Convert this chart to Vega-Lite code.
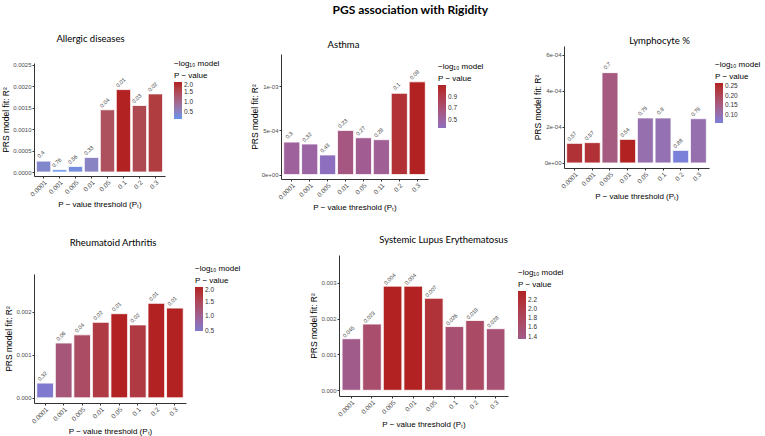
{
  "$schema": "https://vega.github.io/schema/vega-lite/v6.json",
  "background": "white",
  "padding": {"left": 1, "top": 3, "right": 0, "bottom": 0},
  "title": {"text": "PGS association with Rigidity", "font": "Lato", "fontSize": 12, "fontWeight": "bold", "anchor": "middle", "dx": 29, "offset": 16.5, "color": "black"},
  "data": {"values": [
    {"disease": "Allergic diseases", "threshold": "0.0001", "r2": 0.000254, "p": "0.4", "nlp": 0.398},
    {"disease": "Allergic diseases", "threshold": "0.001", "r2": 0.000054, "p": "0.76", "nlp": 0.119},
    {"disease": "Allergic diseases", "threshold": "0.005", "r2": 0.00013, "p": "0.56", "nlp": 0.252},
    {"disease": "Allergic diseases", "threshold": "0.01", "r2": 0.00034, "p": "0.33", "nlp": 0.481},
    {"disease": "Allergic diseases", "threshold": "0.05", "r2": 0.00145, "p": "0.04", "nlp": 1.398},
    {"disease": "Allergic diseases", "threshold": "0.1", "r2": 0.00192, "p": "0.01", "nlp": 2.0},
    {"disease": "Allergic diseases", "threshold": "0.2", "r2": 0.00155, "p": "0.03", "nlp": 1.523},
    {"disease": "Allergic diseases", "threshold": "0.3", "r2": 0.00182, "p": "0.02", "nlp": 1.699},
    {"disease": "Asthma", "threshold": "0.0001", "r2": 0.000368, "p": "0.3", "nlp": 0.523},
    {"disease": "Asthma", "threshold": "0.001", "r2": 0.000346, "p": "0.32", "nlp": 0.495},
    {"disease": "Asthma", "threshold": "0.005", "r2": 0.000222, "p": "0.43", "nlp": 0.367},
    {"disease": "Asthma", "threshold": "0.01", "r2": 0.0005, "p": "0.23", "nlp": 0.638},
    {"disease": "Asthma", "threshold": "0.05", "r2": 0.000417, "p": "0.27", "nlp": 0.569},
    {"disease": "Asthma", "threshold": "0.11", "r2": 0.000395, "p": "0.28", "nlp": 0.553},
    {"disease": "Asthma", "threshold": "0.2", "r2": 0.00092, "p": "0.1", "nlp": 1.0},
    {"disease": "Asthma", "threshold": "0.3", "r2": 0.00105, "p": "0.08", "nlp": 1.097},
    {"disease": "Lymphocyte %", "threshold": "0.0001", "r2": 0.000109, "p": "0.57", "nlp": 0.244},
    {"disease": "Lymphocyte %", "threshold": "0.001", "r2": 0.000113, "p": "0.57", "nlp": 0.244},
    {"disease": "Lymphocyte %", "threshold": "0.005", "r2": 0.000502, "p": "0.7", "nlp": 0.155},
    {"disease": "Lymphocyte %", "threshold": "0.01", "r2": 0.000131, "p": "0.54", "nlp": 0.268},
    {"disease": "Lymphocyte %", "threshold": "0.05", "r2": 0.00025, "p": "0.79", "nlp": 0.102},
    {"disease": "Lymphocyte %", "threshold": "0.1", "r2": 0.00025, "p": "0.8", "nlp": 0.097},
    {"disease": "Lymphocyte %", "threshold": "0.2", "r2": 0.00007, "p": "0.88", "nlp": 0.056},
    {"disease": "Lymphocyte %", "threshold": "0.3", "r2": 0.000246, "p": "0.79", "nlp": 0.102},
    {"disease": "Rheumatoid Arthritis", "threshold": "0.0001", "r2": 0.000342, "p": "0.32", "nlp": 0.495},
    {"disease": "Rheumatoid Arthritis", "threshold": "0.001", "r2": 0.00127, "p": "0.06", "nlp": 1.222},
    {"disease": "Rheumatoid Arthritis", "threshold": "0.005", "r2": 0.00146, "p": "0.04", "nlp": 1.398},
    {"disease": "Rheumatoid Arthritis", "threshold": "0.01", "r2": 0.00175, "p": "0.02", "nlp": 1.699},
    {"disease": "Rheumatoid Arthritis", "threshold": "0.05", "r2": 0.00195, "p": "0.01", "nlp": 2.0},
    {"disease": "Rheumatoid Arthritis", "threshold": "0.1", "r2": 0.00169, "p": "0.02", "nlp": 1.699},
    {"disease": "Rheumatoid Arthritis", "threshold": "0.2", "r2": 0.00219, "p": "0.01", "nlp": 2.0},
    {"disease": "Rheumatoid Arthritis", "threshold": "0.3", "r2": 0.00208, "p": "0.01", "nlp": 2.0},
    {"disease": "Systemic Lupus Erythematosus", "threshold": "0.0001", "r2": 0.00144, "p": "0.045", "nlp": 1.347},
    {"disease": "Systemic Lupus Erythematosus", "threshold": "0.001", "r2": 0.00185, "p": "0.023", "nlp": 1.638},
    {"disease": "Systemic Lupus Erythematosus", "threshold": "0.005", "r2": 0.00291, "p": "0.004", "nlp": 2.398},
    {"disease": "Systemic Lupus Erythematosus", "threshold": "0.01", "r2": 0.00291, "p": "0.004", "nlp": 2.398},
    {"disease": "Systemic Lupus Erythematosus", "threshold": "0.05", "r2": 0.00257, "p": "0.007", "nlp": 2.155},
    {"disease": "Systemic Lupus Erythematosus", "threshold": "0.1", "r2": 0.00178, "p": "0.026", "nlp": 1.585},
    {"disease": "Systemic Lupus Erythematosus", "threshold": "0.2", "r2": 0.00195, "p": "0.019", "nlp": 1.721},
    {"disease": "Systemic Lupus Erythematosus", "threshold": "0.3", "r2": 0.00172, "p": "0.028", "nlp": 1.553}
  ]},
  "spacing": 22,
  "resolve": {"scale": {"color": "independent"}, "legend": {"color": "independent"}},
  "vconcat": [
    {
      "spacing": 30,
      "resolve": {"scale": {"color": "independent"}, "legend": {"color": "independent"}},
      "hconcat": [
        {"spacing": 0, "vconcat": [
        {"height": 1, "width": 10, "data": {"values": [{"k": 1}]}, "mark": {"type": "rect", "opacity": 0}, "encoding": {}},
        {
          "transform": [{"filter": "datum.disease === 'Allergic diseases'"}],
          "width": 131, "height": 113,
          "title": {"text": "Allergic diseases", "font": "Lato", "fontSize": 9.5, "fontWeight": "normal", "offset": 18, "frame": "group", "anchor": "middle", "dx": -9},
          "encoding": {
            "x": {"field": "threshold", "type": "nominal", "sort": null, "scale": {"paddingInner": 0.1, "paddingOuter": 0.15}, "axis": {"title": "P − value threshold (Pₜ)", "labelAngle": 315}},
            "y": {"field": "r2", "type": "quantitative", "scale": {"domain": [-0.000093, 0.00254], "nice": false, "zero": false}, "axis": {"values": [0, 0.0005, 0.001, 0.0015, 0.002, 0.0025], "format": ".4f", "title": "PRS model fit:  R²"}}
          },
          "layer": [
            {"mark": {"type": "bar", "stroke": "white", "strokeWidth": 0.8},
             "encoding": {"y2": {"datum": 0}, "color": {"field": "nlp", "type": "quantitative", "scale": {"domain": [0.119, 2.0], "range": ["#6495ED", "#B22222"], "interpolate": "lab"}, "legend": {"values": [0.5, 1.0, 1.5, 2.0], "format": ".1f", "title": ["−log₁₀ model", "   P − value"], "gradientLength": 37, "orient": "none", "legendX": 140, "legendY": 27}}}},
            {"mark": {"type": "text", "angle": 315, "fontSize": 5.5, "dx": 3, "dy": -7, "baseline": "middle", "align": "center", "font": "Liberation Sans", "color": "#333"},
             "encoding": {"text": {"field": "p"}}}
          ]
        }]},
        {
          "spacing": 49,
          "resolve": {"scale": {"color": "independent"}, "legend": {"color": "independent"}},
          "hconcat": [
            {"spacing": 0, "vconcat": [
            {"height": 5.4, "width": 10, "data": {"values": [{"k": 1}]}, "mark": {"type": "rect", "opacity": 0}, "encoding": {}},
            {
              "transform": [{"filter": "datum.disease === 'Asthma'"}],
              "width": 147, "height": 125,
              "title": {"text": "Asthma", "font": "Lato", "fontSize": 9.5, "fontWeight": "normal", "offset": 4.8, "frame": "group", "anchor": "middle", "dx": -11},
              "encoding": {
                "x": {"field": "threshold", "type": "nominal", "sort": null, "scale": {"paddingInner": 0.1, "paddingOuter": 0.15}, "axis": {"title": "P − value threshold (Pₜ)", "labelAngle": 315}},
                "y": {"field": "r2", "type": "quantitative", "scale": {"domain": [-0.00005, 0.001365], "nice": false, "zero": false}, "axis": {"values": [0, 0.0005, 0.001], "labelExpr": "datum.value == 0 ? '0e+00' : datum.value < 0.0007 ? '5e-04' : '1e-03'", "title": "PRS model fit:  R²"}}
              },
              "layer": [
                {"mark": {"type": "bar", "stroke": "white", "strokeWidth": 0.8},
                 "encoding": {"y2": {"datum": 0}, "color": {"field": "nlp", "type": "quantitative", "scale": {"domain": [0.367, 1.097], "range": ["#8E6FBF", "#B22222"], "interpolate": "lab"}, "legend": {"values": [0.5, 0.7, 0.9], "format": ".1f", "title": ["−log₁₀ model", "   P − value"], "gradientLength": 43, "orient": "none", "legendX": 157, "legendY": 30}}}},
                {"mark": {"type": "text", "angle": 315, "fontSize": 5.5, "dx": 3, "dy": -7, "baseline": "middle", "align": "center", "font": "Liberation Sans", "color": "#333"},
                 "encoding": {"text": {"field": "p"}}}
              ]
            }]},
            {"spacing": 0, "vconcat": [
            {"height": 2.7, "width": 10, "data": {"values": [{"k": 1}]}, "mark": {"type": "rect", "opacity": 0}, "encoding": {}},
            {
              "transform": [{"filter": "datum.disease === 'Lymphocyte %'"}],
              "width": 145, "height": 122,
              "title": {"text": "Lymphocyte %", "font": "Lato", "fontSize": 9.5, "fontWeight": "normal", "offset": 0.5, "frame": "group", "anchor": "middle", "dx": 23},
              "encoding": {
                "x": {"field": "threshold", "type": "nominal", "sort": null, "scale": {"paddingInner": 0.1, "paddingOuter": 0.15}, "axis": {"title": "P − value threshold (Pₜ)", "labelAngle": 315}},
                "y": {"field": "r2", "type": "quantitative", "scale": {"domain": [-0.000028, 0.00065], "nice": false, "zero": false}, "axis": {"values": [0, 0.0002, 0.0004, 0.0006], "labelExpr": "datum.value == 0 ? '0e+00' : datum.value < 0.0003 ? '2e-04' : datum.value < 0.0005 ? '4e-04' : '6e-04'", "title": "PRS model fit:  R²"}}
              },
              "layer": [
                {"mark": {"type": "bar", "stroke": "white", "strokeWidth": 0.8},
                 "encoding": {"y2": {"datum": 0}, "color": {"field": "nlp", "type": "quantitative", "scale": {"domain": [0.056, 0.268], "range": ["#7B80D8", "#B22222"], "interpolate": "lab"}, "legend": {"values": [0.1, 0.15, 0.2, 0.25], "format": ".2f", "title": ["−log₁₀ model", "   P − value"], "gradientLength": 40, "orient": "none", "legendX": 151, "legendY": 28}}}},
                {"mark": {"type": "text", "angle": 315, "fontSize": 5.5, "dx": 3, "dy": -7, "baseline": "middle", "align": "center", "font": "Liberation Sans", "color": "#333"},
                 "encoding": {"text": {"field": "p"}}}
              ]
            }]}
          ]
        }
      ]
    },
    {
      "spacing": 68,
      "resolve": {"scale": {"color": "independent"}, "legend": {"color": "independent"}},
      "hconcat": [
        {"spacing": 0, "vconcat": [
        {"height": 4, "width": 10, "data": {"values": [{"k": 1}]}, "mark": {"type": "rect", "opacity": 0}, "encoding": {}},
        {
          "transform": [{"filter": "datum.disease === 'Rheumatoid Arthritis'"}],
          "width": 152, "height": 129,
          "title": {"text": "Rheumatoid Arthritis", "font": "Lato", "fontSize": 9.5, "fontWeight": "normal", "offset": 26.5, "frame": "group", "anchor": "middle", "dx": 3},
          "encoding": {
            "x": {"field": "threshold", "type": "nominal", "sort": null, "scale": {"paddingInner": 0.1, "paddingOuter": 0.15}, "axis": {"title": "P − value threshold (Pₜ)", "labelAngle": 315}},
            "y": {"field": "r2", "type": "quantitative", "scale": {"domain": [-0.00012, 0.00287], "nice": false, "zero": false}, "axis": {"values": [0, 0.001, 0.002], "format": ".3f", "title": "PRS model fit:  R²"}}
          },
          "layer": [
            {"mark": {"type": "bar", "stroke": "white", "strokeWidth": 0.8},
             "encoding": {"y2": {"datum": 0}, "color": {"field": "nlp", "type": "quantitative", "scale": {"domain": [0.495, 2.0], "range": ["#7F79CF", "#B22222"], "interpolate": "lab"}, "legend": {"values": [0.5, 1.0, 1.5, 2.0], "format": ".1f", "title": ["−log₁₀ model", "   P − value"], "gradientLength": 44, "orient": "none", "legendX": 161, "legendY": 31}}}},
            {"mark": {"type": "text", "angle": 315, "fontSize": 5.5, "dx": 3, "dy": -7, "baseline": "middle", "align": "center", "font": "Liberation Sans", "color": "#333"},
             "encoding": {"text": {"field": "p"}}}
          ]
        }]},
        {"spacing": 0, "vconcat": [
        {"height": 1, "width": 10, "data": {"values": [{"k": 1}]}, "mark": {"type": "rect", "opacity": 0}, "encoding": {}},
        {
          "transform": [{"filter": "datum.disease === 'Systemic Lupus Erythematosus'"}],
          "width": 169, "height": 141,
          "title": {"text": "Systemic Lupus Erythematosus", "font": "Lato", "fontSize": 9.5, "fontWeight": "normal", "offset": 10.5, "frame": "group", "anchor": "middle", "dx": 20},
          "encoding": {
            "x": {"field": "threshold", "type": "nominal", "sort": null, "scale": {"paddingInner": 0.1, "paddingOuter": 0.15}, "axis": {"title": "P − value threshold (Pₜ)", "labelAngle": 315}},
            "y": {"field": "r2", "type": "quantitative", "scale": {"domain": [-0.00016, 0.00378], "nice": false, "zero": false}, "axis": {"values": [0, 0.001, 0.002, 0.003], "format": ".3f", "title": "PRS model fit:  R²"}}
          },
          "layer": [
            {"mark": {"type": "bar", "stroke": "white", "strokeWidth": 0.8},
             "encoding": {"y2": {"datum": 0}, "color": {"field": "nlp", "type": "quantitative", "scale": {"domain": [1.347, 2.398], "range": ["#A15B8A", "#B22222"], "interpolate": "lab"}, "legend": {"values": [1.4, 1.6, 1.8, 2.0, 2.2], "format": ".1f", "title": ["−log₁₀ model", "   P − value"], "gradientLength": 48, "orient": "none", "legendX": 179, "legendY": 35}}}},
            {"mark": {"type": "text", "angle": 315, "fontSize": 5.5, "dx": 3, "dy": -7, "baseline": "middle", "align": "center", "font": "Liberation Sans", "color": "#333"},
             "encoding": {"text": {"field": "p"}}}
          ]
        }]}
      ]
    }
  ],
  "config": {
    "view": {"stroke": null},
    "axis": {"labelFont": "Liberation Sans", "titleFont": "Liberation Sans", "labelColor": "#4d4d4d", "labelFontSize": 6, "titleFontSize": 8, "titleFontWeight": "normal", "titleColor": "black", "domainColor": "#333333", "tickColor": "#333333", "tickSize": 2, "grid": false, "labelPadding": 1, "titlePadding": 2},
    "axisX": {"labelFontSize": 6.5, "titlePadding": 3},
    "axisY": {"titleFontSize": 8.5},
    "legend": {"titleFont": "Liberation Sans", "titleFontSize": 8, "titleLineHeight": 12, "titleFontWeight": "normal", "titleColor": "black", "labelFont": "Liberation Sans", "labelFontSize": 6.5, "labelColor": "#333333", "gradientThickness": 8, "titlePadding": 2, "gradientStrokeWidth": 0, "labelOffset": 4}
  }
}
